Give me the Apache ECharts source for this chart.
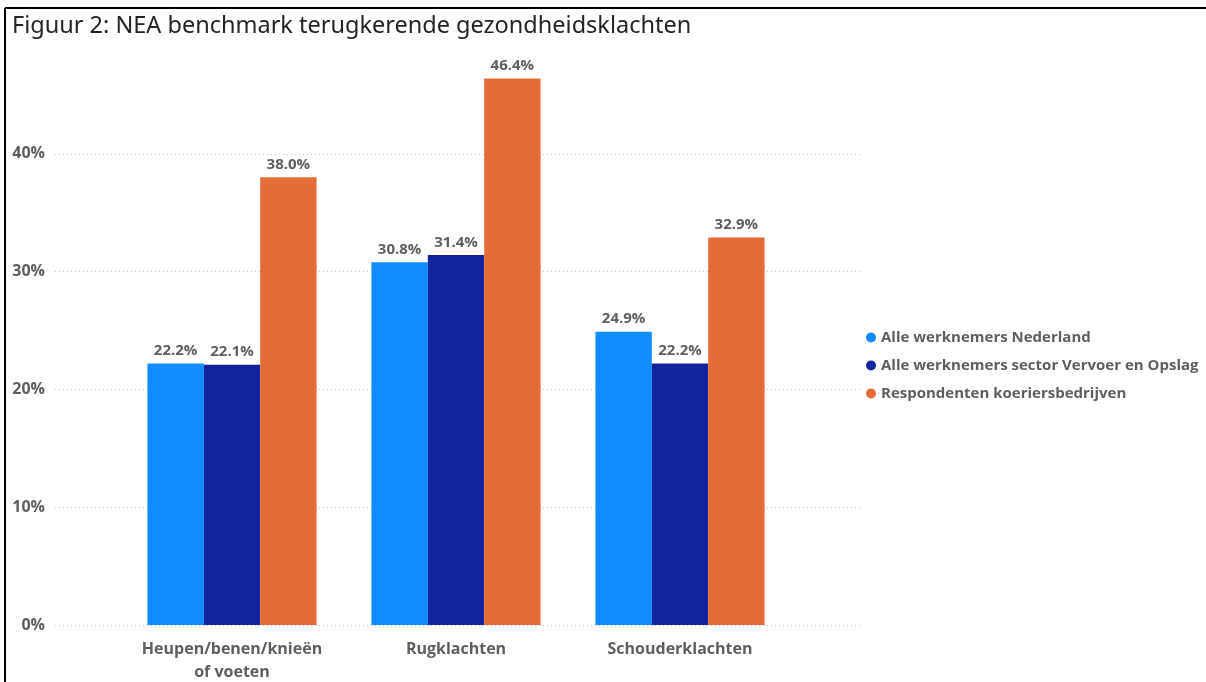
<!DOCTYPE html>
<html>
<head>
<meta charset="utf-8">
<script src="https://cdn.jsdelivr.net/npm/echarts@6/dist/echarts.min.js"></script>
<style>
  html, body { margin: 0; padding: 0; background: #fff; }
  #chart { width: 1206px; height: 682px; }
</style>
</head>
<body>
<div id="chart"></div>
<script>
// categories and values (percent)
const categories = ['Heupen/benen/knieën\nof voeten', 'Rugklachten', 'Schouderklachten'];
const seriesNames = [
  'Alle werknemers Nederland',
  'Alle werknemers sector Vervoer en Opslag',
  'Respondenten koeriersbedrijven'
];
const nederland = [22.2, 30.8, 24.9];
const vervoer = [22.1, 31.4, 22.2];
const koeriers = [38.0, 46.4, 32.9];
const colors = ['#118DFF', '#12239E', '#E66C37'];

const labelGrey = '#605E5C';
const font = '"Open Sans", "Noto Sans", sans-serif';

const barLabel = {
  show: true,
  position: 'top',
  distance: 5,
  color: labelGrey,
  fontFamily: font,
  fontWeight: 'bold',
  fontSize: 15,
  formatter: (p) => p.value.toFixed(1) + '%'
};

const makeSeries = (name, data, i) => ({
  name: name,
  type: 'bar',
  xAxisIndex: 0,
  yAxisIndex: 0,
  data: data,
  barGap: '0%',
  barCategoryGap: '24.5%',
  itemStyle: { color: colors[i] },
  label: barLabel
});

var chartDom = document.getElementById('chart');
var myChart = echarts.init(chartDom);

let option = {
  animation: false,
  title: {
    text: 'Figuur 2: NEA benchmark terugkerende gezondheidsklachten',
    left: 7,
    top: 9,
    textStyle: {
      fontFamily: '"Noto Sans", sans-serif',
      fontWeight: 'normal',
      fontSize: 23.5,
      color: '#252423'
    }
  },
  graphic: [
    // frame lines top and left
    { type: 'line', shape: { x1: 5, y1: 8, x2: 1206, y2: 8 }, style: { stroke: '#000', lineWidth: 2 } },
    { type: 'line', shape: { x1: 5, y1: 8, x2: 5, y2: 682 }, style: { stroke: '#000', lineWidth: 2 } }
  ],
  legend: {
    orient: 'vertical',
    left: 861,
    top: 325,
    icon: 'circle',
    itemWidth: 10,
    itemHeight: 10,
    itemGap: 13,
    textStyle: {
      color: labelGrey,
      fontFamily: font,
      fontWeight: 'bold',
      fontSize: 15
    },
    data: seriesNames
  },
  grid: [
    { left: 120, width: 672, top: 36, bottom: 57, outerBoundsMode: 'none' },
    { left: 55, right: 344, top: 36, bottom: 57, outerBoundsMode: 'none' }
  ],
  xAxis: [
    {
      type: 'category',
      gridIndex: 0,
      data: categories,
      axisLine: { show: false },
      axisTick: { show: false },
      axisLabel: {
        interval: 0,
        hideOverlap: false,
        margin: 13,
        color: labelGrey,
        fontFamily: font,
        fontWeight: 'bold',
        fontSize: 16,
        lineHeight: 23
      }
    },
    { type: 'value', gridIndex: 1, show: false, min: 0, max: 1 }
  ],
  yAxis: [
    { type: 'value', gridIndex: 0, min: 0, max: 50, show: false },
    {
      type: 'value',
      gridIndex: 1,
      min: 0,
      max: 50,
      interval: 10,
      axisLine: { show: false },
      axisTick: { show: false },
      axisLabel: {
        showMaxLabel: false,
        margin: 10,
        color: labelGrey,
        fontFamily: font,
        fontWeight: 'bold',
        fontSize: 16,
        formatter: '{value}%'
      },
      splitLine: {
        show: true,
        lineStyle: {
          type: [1, 3],
          width: 1,
          color: ['#C8C6C4', '#C8C6C4', '#C8C6C4', '#C8C6C4', '#C8C6C4', 'rgba(0,0,0,0)']
        }
      }
    }
  ],
  series: [
    makeSeries(seriesNames[0], nederland, 0),
    makeSeries(seriesNames[1], vervoer, 1),
    makeSeries(seriesNames[2], koeriers, 2)
  ]
};
option && myChart.setOption(option);
</script>
</body>
</html>
